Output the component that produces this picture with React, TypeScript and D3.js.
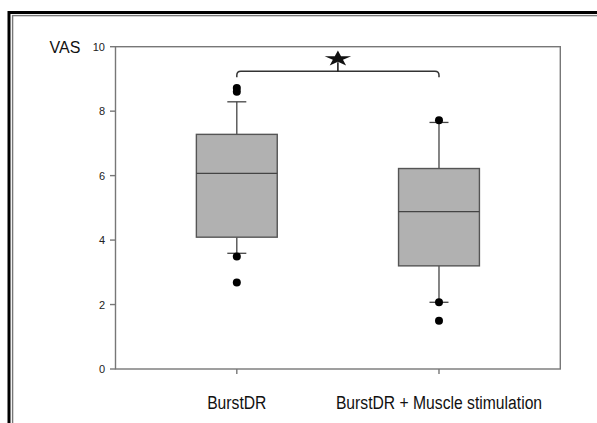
import React from 'react';
import { scaleLinear, scalePoint, symbol, symbolStar } from 'd3';

const categories = ['BurstDR', 'BurstDR + Muscle stimulation'];
const q1 = [4.09, 3.2];
const median = [6.07, 4.88];
const q3 = [7.28, 6.22];
const whiskerLow = [3.59, 2.07];
const whiskerHigh = [8.29, 7.65];
const outliers = [
  [8.72, 8.6, 3.49, 2.68],
  [7.72, 2.07, 1.5]
];
const yTicks = [0, 2, 4, 6, 8, 10];
const bracketValue = 9.24;

const W = 597;
const H = 423;
const margin = { left: 115.5, right: 36.7, top: 46.7, bottom: 54 };

export default function App() {
  const y = scaleLinear().domain([0, 10]).range([H - margin.bottom, margin.top]);
  const x = scalePoint<string>()
    .domain(categories)
    .range([margin.left, W - margin.right])
    .padding(0.6);
  const boxW = x.step() * 0.4;
  const capW = 19;
  const font = '"Liberation Sans", Arial, sans-serif';

  const bx0 = x(categories[0])!;
  const bx1 = x(categories[1])!;
  const by = y(bracketValue);
  const midX = (bx0 + bx1) / 2;
  const r = 4;
  const bracketPath = `M${bx0},${by + 6} L${bx0},${by + r} Q${bx0},${by} ${bx0 + r},${by} L${bx1 - r},${by} Q${bx1},${by} ${bx1},${by + r} L${bx1},${by + 6}`;
  const star = symbol().type(symbolStar).size(120)();

  return (
    <svg width={W} height={H} style={{ position: 'absolute', left: 0, top: 0, background: '#fff' }}>
      {/* double frame */}
      <rect x={9} y={12.5} width={W + 20} height={H + 20} fill="none" stroke="#000" strokeWidth={3} />
      <rect x={12.6} y={15.6} width={W + 20} height={H + 20} fill="none" stroke="#777" strokeWidth={1.4} />

      {/* plot frame */}
      <rect
        x={margin.left}
        y={margin.top}
        width={W - margin.right - margin.left}
        height={H - margin.bottom - margin.top}
        fill="none"
        stroke="#777"
        strokeWidth={1.4}
      />

      {/* y axis ticks */}
      {yTicks.map(t => (
        <g key={t}>
          <line x1={margin.left - 5.5} x2={margin.left} y1={y(t)} y2={y(t)} stroke="#777" strokeWidth={1.4} />
          <text
            x={margin.left - 10.5}
            y={y(t)}
            dy="0.36em"
            textAnchor="end"
            fontFamily={font}
            fontSize={11}
            fill="#222"
          >
            {t}
          </text>
        </g>
      ))}
      <text x={49.5} y={52.8} fontFamily={font} fontSize={16} fill="#111">VAS</text>

      {/* x axis ticks and labels */}
      {categories.map(c => (
        <g key={c}>
          <line x1={x(c)} x2={x(c)} y1={y(0)} y2={y(0) + 5} stroke="#777" strokeWidth={1.4} />
          <text
            x={x(c)}
            y={408.5}
            textAnchor="middle"
            fontFamily={font}
            fontSize={15.7}
            fill="#111"
            transform={`translate(0, ${408.5}) scale(1, 1.12) translate(0, ${-408.5})`}
          >
            {c}
          </text>
        </g>
      ))}

      {/* boxes */}
      {categories.map((c, i) => {
        const cx = x(c)!;
        return (
          <g key={c}>
            <line x1={cx} x2={cx} y1={y(q3[i])} y2={y(whiskerHigh[i])} stroke="#444" strokeWidth={1.3} />
            <line x1={cx} x2={cx} y1={y(q1[i])} y2={y(whiskerLow[i])} stroke="#444" strokeWidth={1.3} />
            <line x1={cx - capW / 2} x2={cx + capW / 2} y1={y(whiskerHigh[i])} y2={y(whiskerHigh[i])} stroke="#444" strokeWidth={1.3} />
            <line x1={cx - capW / 2} x2={cx + capW / 2} y1={y(whiskerLow[i])} y2={y(whiskerLow[i])} stroke="#444" strokeWidth={1.3} />
            <rect
              x={cx - boxW / 2}
              y={y(q3[i])}
              width={boxW}
              height={y(q1[i]) - y(q3[i])}
              fill="#b1b1b1"
              stroke="#555"
              strokeWidth={1.4}
            />
            <line x1={cx - boxW / 2} x2={cx + boxW / 2} y1={y(median[i])} y2={y(median[i])} stroke="#444" strokeWidth={1.3} />
            {outliers[i].map((v, j) => (
              <circle key={j} cx={cx} cy={y(v)} r={4} fill="#000" />
            ))}
          </g>
        );
      })}

      {/* significance bracket */}
      <path d={bracketPath} fill="none" stroke="#333" strokeWidth={1.5} />
      <line x1={midX} x2={midX} y1={by} y2={by - 9} stroke="#111" strokeWidth={1.5} />
      <path d={star!} transform={`translate(${midX}, ${by - 12.5}) scale(1.35, 0.8)`} fill="#111" />
    </svg>
  );
}
